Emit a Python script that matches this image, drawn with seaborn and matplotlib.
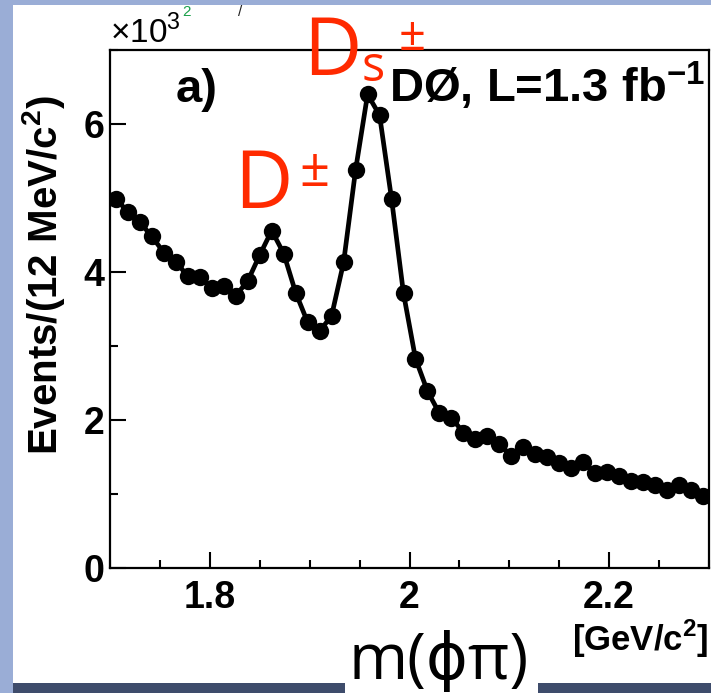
import matplotlib
matplotlib.use("Agg")
import matplotlib.pyplot as plt
from matplotlib.patches import Rectangle
from matplotlib.ticker import MultipleLocator, FixedLocator
import seaborn as sns
import pandas as pd

# ---- data (events in units of 10^3 per 12 MeV bin) ----
mass = [1.706, 1.718, 1.730, 1.742, 1.754, 1.766, 1.778, 1.790, 1.802, 1.814,
        1.826, 1.838, 1.850, 1.862, 1.874, 1.886, 1.898, 1.910, 1.922, 1.934,
        1.946, 1.958, 1.970, 1.982, 1.994, 2.006, 2.018, 2.030, 2.042, 2.054,
        2.066, 2.078, 2.090, 2.102, 2.114, 2.126, 2.138, 2.150, 2.162, 2.174,
        2.186, 2.198, 2.210, 2.222, 2.234, 2.246, 2.258, 2.270, 2.282, 2.294]
events = [4.99, 4.81, 4.67, 4.48, 4.26, 4.14, 3.94, 3.93, 3.79, 3.81,
          3.68, 3.88, 4.23, 4.56, 4.25, 3.72, 3.32, 3.20, 3.41, 4.13,
          5.38, 6.40, 6.12, 4.99, 3.71, 2.83, 2.39, 2.09, 2.03, 1.83,
          1.74, 1.78, 1.68, 1.51, 1.64, 1.54, 1.50, 1.42, 1.35, 1.43,
          1.29, 1.30, 1.24, 1.17, 1.16, 1.12, 1.05, 1.12, 1.06, 0.97]
x_ticks = [1.8, 2.0, 2.2]
x_tick_labels = ["1.8", "2", "2.2"]
y_ticks = [0, 2, 4, 6]
y_tick_labels = ["0", "2", "4", "6"]

df = pd.DataFrame({"mass": mass, "events": events})

sns.set_theme(style="ticks")
plt.rcParams["font.family"] = ["Liberation Sans", "DejaVu Sans"]
plt.rcParams["mathtext.fontset"] = "custom"
plt.rcParams["mathtext.rm"] = "Liberation Sans"
plt.rcParams["mathtext.bf"] = "Liberation Sans:bold"
plt.rcParams["text.color"] = "black"
plt.rcParams["xtick.color"] = "black"
plt.rcParams["ytick.color"] = "black"
plt.rcParams["xtick.labelcolor"] = "black"
plt.rcParams["ytick.labelcolor"] = "black"

W, H = 711, 693
fig = plt.figure(figsize=(W / 100, H / 100), dpi=100)
fig.patch.set_facecolor("#9aadd6")

def fx(px):
    return px / W

def fy(py):
    return 1 - py / H

# slide background pieces (drawn below the axes)
fig.patches.append(Rectangle((fx(13), fy(683)), 1 - fx(13), fy(5) - fy(683),
                             transform=fig.transFigure, facecolor="white",
                             edgecolor="none", zorder=-3))
fig.patches.append(Rectangle((fx(13), 0), 1 - fx(13), fy(683),
                             transform=fig.transFigure, facecolor="#3e4c6b",
                             edgecolor="none", zorder=-2))
fig.patches.append(Rectangle((fx(345), 0), fx(538) - fx(345), fy(640),
                             transform=fig.transFigure, facecolor="white",
                             edgecolor="none", zorder=-1))

ax = fig.add_axes([fx(110), fy(568), fx(709) - fx(110), fy(50) - fy(568)])
ax.set_facecolor("white")

sns.lineplot(data=df, x="mass", y="events", ax=ax, color="black",
             linewidth=3.4, marker="o", markersize=12.5, markeredgewidth=0,
             markerfacecolor="black", zorder=3)

ax.set_xlim(1.7, 2.3)
ax.set_ylim(0, 7.0)
ax.set_xlabel("")
ax.set_ylabel("")

ax.xaxis.set_major_locator(FixedLocator(x_ticks))
ax.set_xticklabels(x_tick_labels)
ax.xaxis.set_minor_locator(MultipleLocator(0.05))
ax.yaxis.set_major_locator(FixedLocator(y_ticks))
ax.set_yticklabels(y_tick_labels)
ax.yaxis.set_minor_locator(MultipleLocator(1))

ax.tick_params(axis="both", which="major", direction="in", length=11.5,
               width=1.5, color="black", labelsize=27, labelcolor="black")
ax.tick_params(axis="both", which="minor", direction="in", length=5.8,
               width=1.5, color="black")
ax.tick_params(axis="x", which="major", pad=9)
ax.tick_params(axis="y", which="major", pad=4)
for lab in ax.get_xticklabels() + ax.get_yticklabels():
    lab.set_fontweight("bold")
for s in ax.spines.values():
    s.set_visible(True)
    s.set_linewidth(1.6)
    s.set_color("black")

# texts
fig.text(fx(110), fy(43), r"$\times$10$^{3}$", fontsize=24, color="black",
         ha="left", va="baseline")
fig.text(fx(176), fy(102), "a)", fontsize=34, fontweight="bold",
         ha="left", va="baseline")
fig.text(fx(389), fy(102), r"DØ, L=1.3 fb$^{\mathbf{-1}}$", fontsize=34,
         fontweight="bold", ha="left", va="baseline")
fig.text(fx(44), fy(275), r"Events/(12 MeV/c$^{\mathbf{2}}$)", fontsize=29,
         fontweight="bold", rotation=90, ha="center", va="center")
fig.text(fx(709), fy(651), r"[GeV/c$^{\mathbf{2}}$]", fontsize=25,
         fontweight="bold", ha="right", va="baseline")
fig.text(fx(439), fy(679), "m(ϕπ)", fontsize=46,
         family=["Open Sans", "DejaVu Sans"], ha="center", va="baseline")

red = "#ff2a00"
fig.text(fx(234), fy(208), "D", fontsize=58, color=red,
         family=["Open Sans", "DejaVu Sans"], ha="left", va="baseline")
fig.text(fx(314), fy(186), "±", fontsize=38, color=red,
         family=["Open Sans", "DejaVu Sans"], ha="center", va="baseline")
fig.text(fx(303), fy(75), "D", fontsize=58, color=red,
         family=["Open Sans", "DejaVu Sans"], ha="left", va="baseline")
fig.text(fx(362), fy(81), "s", fontsize=35, color=red,
         family=["Open Sans", "DejaVu Sans"], ha="left", va="baseline")
fig.text(fx(412), fy(50), "±", fontsize=34, color=red,
         family=["Open Sans", "DejaVu Sans"], ha="center", va="baseline")

# fragments of slide writing at the top edge
fig.text(fx(182), fy(16), "2", fontsize=11, color="#1aa04a",
         ha="left", va="baseline")
fig.text(fx(238), fy(16), "/", fontsize=11, color="#222222",
         ha="left", va="baseline")

fig.savefig("out.png", dpi=100, facecolor=fig.get_facecolor())
